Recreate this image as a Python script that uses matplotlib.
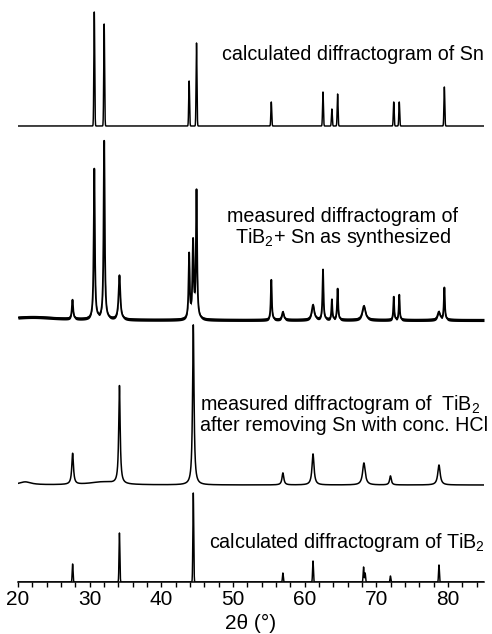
import numpy as np
import matplotlib
matplotlib.use("Agg")
import matplotlib.pyplot as plt
from matplotlib.ticker import MultipleLocator

plt.rcParams['font.family'] = ['Liberation Sans', 'DejaVu Sans']
plt.rcParams['mathtext.fontset'] = 'custom'
plt.rcParams['mathtext.rm'] = 'Liberation Sans'
plt.rcParams['mathtext.it'] = 'Liberation Sans:italic'

# ---------------------------------------------------
# Peak lists (2theta, height, half width)
# heights are in pixel units of the original figure
# ---------------------------------------------------
sn_calc_pos = [30.64, 32.02, 43.87, 44.90, 55.33, 62.54, 63.78, 64.58, 72.41, 73.18, 79.47]
sn_calc_int = [114, 102, 45, 83, 24, 34, 17, 32, 24, 24, 39]

mix_pos = [22.0, 27.6, 30.64, 32.02, 34.15, 43.87, 44.42, 44.90, 55.33, 56.95,
           61.15, 62.54, 63.78, 64.58, 68.25, 72.41, 73.18, 78.7, 79.47]
mix_int = [3, 19, 150, 178, 44, 64, 76, 127, 40, 8,
           15, 50, 20, 31, 14, 23, 25, 8, 32]
mix_wid = [4.0, 0.10, 0.09, 0.09, 0.14, 0.09, 0.10, 0.09, 0.08, 0.15,
           0.20, 0.08, 0.07, 0.08, 0.25, 0.07, 0.07, 0.20, 0.08]

hcl_pos = [21.0, 31.8, 27.62, 34.15, 44.45, 56.95, 61.15, 68.25, 71.95, 78.72]
hcl_int = [3, 3, 31, 98, 160, 12, 31, 22, 9, 20]
hcl_wid = [1.0, 2.2, 0.14, 0.12, 0.12, 0.15, 0.17, 0.22, 0.14, 0.20]

tib2_calc_pos = [27.62, 34.15, 44.45, 56.95, 61.15, 68.20, 68.42, 71.95, 78.72]
tib2_calc_int = [18, 49, 89, 9, 21, 15, 9, 6, 17]

# vertical offsets of the four traces
offsets = [456, 262, 97, 0]
NOISE_MIX = 1.6

labels = ["calculated diffractogram of Sn",
          "measured diffractogram of\nTiB$_\\mathregular{2}$+ Sn as synthesized",
          "measured diffractogram of  TiB$_\\mathregular{2}$\nafter removing Sn with conc. HCl",
          "calculated diffractogram of TiB$_\\mathregular{2}$"]

# ---------------------------------------------------
# Profiles
# ---------------------------------------------------
x = np.linspace(20, 85, 6501)


def gauss_sum(pos, hgt, sig=0.06):
    y = np.zeros_like(x)
    for p, h in zip(pos, hgt):
        y += h * np.exp(-0.5 * ((x - p) / sig) ** 2)
    return y


def lorentz_sum(pos, hgt, wid):
    y = np.zeros_like(x)
    for p, h, w in zip(pos, hgt, wid):
        y += h / (1 + ((x - p) / w) ** 2)
    return y


sn_calc = gauss_sum(sn_calc_pos, sn_calc_int) + offsets[0]
mix = lorentz_sum(mix_pos, mix_int, mix_wid) + offsets[1]
hcl = lorentz_sum(hcl_pos, hcl_int, hcl_wid) + offsets[2]
tib2_calc = gauss_sum(tib2_calc_pos, tib2_calc_int) + offsets[3]

# ---------------------------------------------------
# Diagramm
# ---------------------------------------------------
fig = plt.figure(figsize=(4.92, 6.34), dpi=100)
ax = fig.add_axes([18 / 492, 1 - 582 / 634, 466 / 492, 574 / 634])

ax.plot(x, sn_calc, color='black', lw=1.05)
ax.fill_between(x, mix - NOISE_MIX, mix + NOISE_MIX, color='black', lw=0)
ax.plot(x, mix, color='black', lw=1.3)
ax.plot(x, hcl, color='black', lw=1.1)
ax.plot(x, tib2_calc, color='black', lw=1.05)

fs = 14.2
ax.text(48.5, 528, labels[0], fontsize=fs, ha='left', va='center')
ax.text(65.3, 354, labels[1], fontsize=fs, ha='center', va='center',
        multialignment='center', linespacing=0.95)
ax.text(45.4, 168, labels[2], fontsize=fs, ha='left', va='center', linespacing=0.95)
ax.text(46.6, 40, labels[3], fontsize=fs, ha='left', va='center')

ax.set_xlim(20, 85)
ax.set_ylim(0, 574)
ax.xaxis.set_major_locator(MultipleLocator(10))
ax.xaxis.set_minor_locator(MultipleLocator(2))
ax.tick_params(axis='x', which='both', direction='out', length=3.5, width=1,
               labelsize=15, pad=2.5)
ax.set_yticks([])
for s in ['top', 'left', 'right']:
    ax.spines[s].set_visible(False)
ax.spines['bottom'].set_linewidth(1.1)
ax.set_xlabel("2θ (°)", fontsize=15, labelpad=3.5)

fig.savefig("out.png", dpi=100)
